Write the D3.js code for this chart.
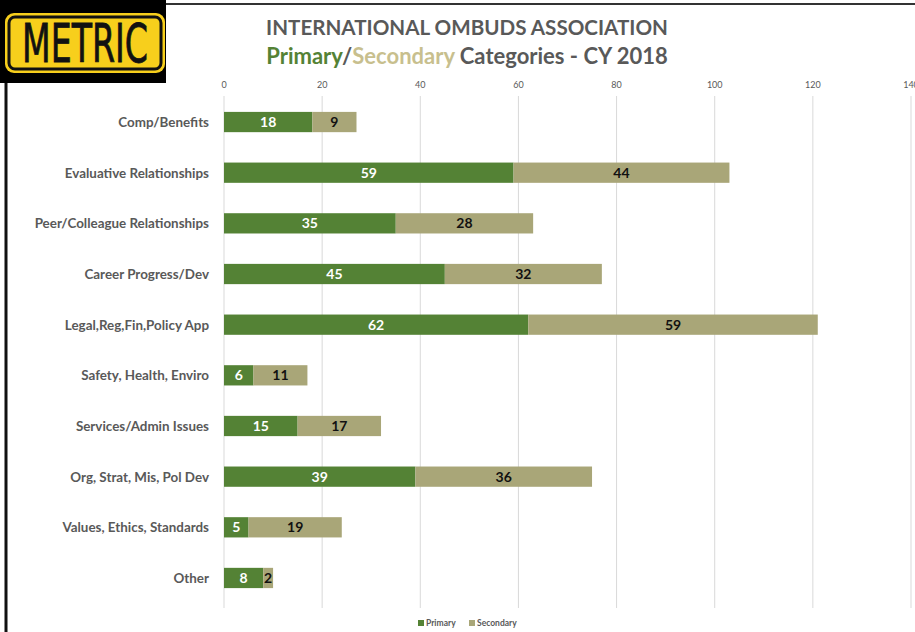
<!DOCTYPE html>
<html>
<head>
<meta charset="utf-8">
<script src="https://cdn.jsdelivr.net/npm/d3@7"></script>
<style>
  body { margin: 0; background: #fff; }
  svg { display: block; }
</style>
</head>
<body>
<div id="chart"></div>
<script>
const w = 915;
const h = 632;

const categories = [
  "Comp/Benefits",
  "Evaluative Relationships",
  "Peer/Colleague Relationships",
  "Career Progress/Dev",
  "Legal,Reg,Fin,Policy App",
  "Safety, Health, Enviro",
  "Services/Admin Issues",
  "Org, Strat, Mis, Pol Dev",
  "Values, Ethics, Standards",
  "Other"
];
const primary = [18, 59, 35, 45, 62, 6, 15, 39, 5, 8];
const secondary = [9, 44, 28, 32, 59, 11, 17, 36, 19, 2];
const ticks = [0, 20, 40, 60, 80, 100, 120, 140];
const seriesNames = ["Primary", "Secondary"];

const green = "#548235";
const tan = "#a9a678";
const gray = "#595959";
const font = "Lato, 'Open Sans', sans-serif";

let svg = d3
  .select("#chart")
  .append("svg")
  .attr("width", w)
  .attr("height", h);

// frame lines
svg.append("line")
  .attr("x1", 165).attr("x2", w).attr("y1", 4).attr("y2", 4)
  .attr("stroke", "#333").attr("stroke-width", 2);
svg.append("line")
  .attr("x1", 6).attr("x2", 6).attr("y1", 80).attr("y2", h)
  .attr("stroke", "#111").attr("stroke-width", 3);

// logo
let logo = svg.append("g");
logo.append("rect")
  .attr("x", 0).attr("y", 0).attr("width", 166).attr("height", 83)
  .attr("fill", "#000");
logo.append("rect")
  .attr("x", 5).attr("y", 13).attr("width", 160).attr("height", 60)
  .attr("rx", 9).attr("fill", "#f7cf1c");
logo.append("rect")
  .attr("x", 9).attr("y", 17).attr("width", 152).attr("height", 52)
  .attr("rx", 6).attr("fill", "none")
  .attr("stroke", "#111").attr("stroke-width", 3);
logo.append("text")
  .text("METRIC")
  .attr("x", 85).attr("y", 62)
  .attr("text-anchor", "middle")
  .attr("font-family", "'Liberation Sans Narrow', 'DejaVu Sans Condensed', sans-serif")
  .attr("font-size", 53)
  .attr("textLength", 126)
  .attr("lengthAdjust", "spacingAndGlyphs")
  .attr("stroke", "#111").attr("stroke-width", 0.8)
  .attr("fill", "#111");

// titles
svg.append("text")
  .text("INTERNATIONAL OMBUDS ASSOCIATION")
  .attr("x", 467).attr("y", 35)
  .attr("text-anchor", "middle")
  .attr("font-family", font).attr("font-weight", "bold")
  .attr("font-size", 20.6)
  .attr("fill", gray);
let t2 = svg.append("text")
  .attr("x", 467).attr("y", 64)
  .attr("text-anchor", "middle")
  .attr("font-family", font).attr("font-weight", "bold")
  .attr("font-size", 22);
t2.append("tspan").text("Primary").attr("fill", green);
t2.append("tspan").text("/").attr("fill", gray);
t2.append("tspan").text("Secondary").attr("fill", "#c8bf8e");
t2.append("tspan").text(" Categories - CY 2018").attr("fill", gray);

// scales
let x = d3.scaleLinear().domain([0, 140]).range([224, 911]);
let y = d3.scaleBand().domain(categories).range([96.7, 603.3]).paddingInner(0.6).paddingOuter(0.3);

// grid + tick labels
let grid = svg.append("g");
grid.selectAll("line")
  .data(ticks)
  .enter()
  .append("line")
  .attr("x1", d => x(d)).attr("x2", d => x(d))
  .attr("y1", 96).attr("y2", 608)
  .attr("stroke", "#d9d9d9").attr("stroke-width", 1);
grid.selectAll("text")
  .data(ticks)
  .enter()
  .append("text")
  .text(d => d)
  .attr("x", d => x(d)).attr("y", 88)
  .attr("text-anchor", "middle")
  .attr("font-family", font).attr("font-size", 9)
  .attr("fill", gray);

// bars
let rows = svg.selectAll("g.row")
  .data(categories.map((c, i) => ({ c, p: primary[i], s: secondary[i] })))
  .enter()
  .append("g")
  .attr("class", "row");

rows.append("rect")
  .attr("x", x(0))
  .attr("y", d => y(d.c))
  .attr("width", d => x(d.p) - x(0))
  .attr("height", y.bandwidth())
  .attr("fill", green);
rows.append("rect")
  .attr("x", d => x(d.p))
  .attr("y", d => y(d.c))
  .attr("width", d => x(d.p + d.s) - x(d.p))
  .attr("height", y.bandwidth())
  .attr("fill", tan);

rows.append("text")
  .text(d => d.p)
  .attr("x", d => (x(0) + x(d.p)) / 2)
  .attr("y", d => y(d.c) + y.bandwidth() / 2 + 5)
  .attr("text-anchor", "middle")
  .attr("font-family", font).attr("font-weight", "bold").attr("font-size", 14)
  .attr("fill", "#fff");
rows.append("text")
  .text(d => d.s)
  .attr("x", d => (x(d.p) + x(d.p + d.s)) / 2)
  .attr("y", d => y(d.c) + y.bandwidth() / 2 + 5)
  .attr("text-anchor", "middle")
  .attr("font-family", font).attr("font-weight", "bold").attr("font-size", 14)
  .attr("fill", "#111");

// category labels
rows.append("text")
  .text(d => d.c)
  .attr("x", 209)
  .attr("y", d => y(d.c) + y.bandwidth() / 2 + 5)
  .attr("text-anchor", "end")
  .attr("font-family", font).attr("font-weight", "bold").attr("font-size", 13.4)
  .attr("fill", gray);

// legend
let legend = svg.selectAll("g.legend")
  .data(seriesNames)
  .enter()
  .append("g")
  .attr("class", "legend")
  .attr("transform", (d, i) => `translate(${i == 0 ? 418 : 469},620)`);
legend.append("rect")
  .attr("width", 6).attr("height", 6)
  .attr("fill", (d, i) => (i == 0 ? green : tan));
legend.append("text")
  .text(d => d)
  .attr("x", 8).attr("y", 6)
  .attr("font-family", font).attr("font-weight", "bold").attr("font-size", 8.5)
  .attr("fill", gray);
</script>
</body>
</html>
